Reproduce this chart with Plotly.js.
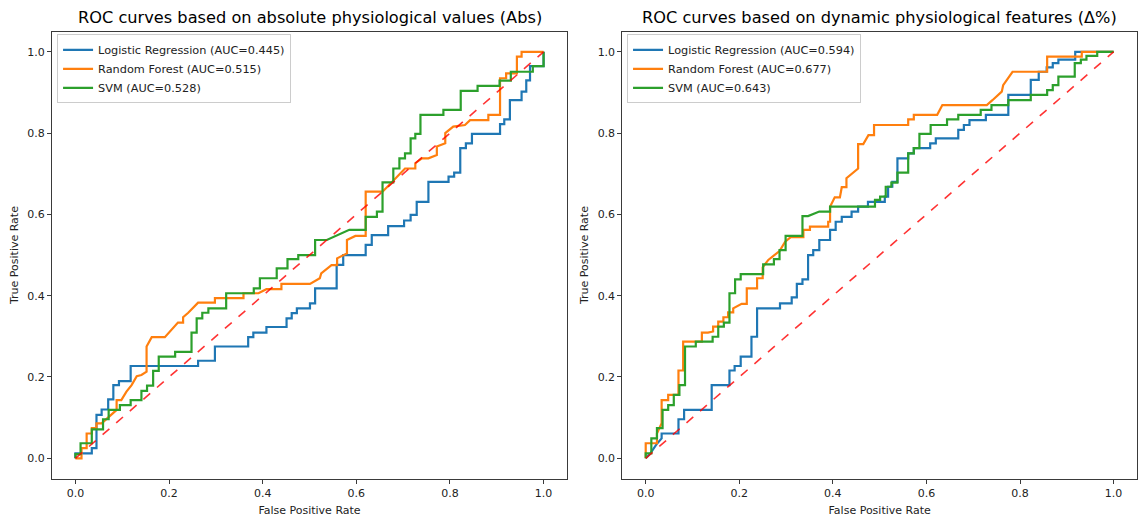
<!DOCTYPE html>
<html>
<head>
<meta charset="utf-8">
<script src="https://cdn.plot.ly/plotly-3.0.1.min.js"></script>
<style>
  html, body { margin: 0; padding: 0; background: #fff; }
  #chart { width: 1148px; height: 520px; }
</style>
</head>
<body>
<div id="chart"></div>
<script>
// ---- data: ROC corner points ----
const titles = [
    "ROC curves based on absolute physiological values (Abs)",
    "ROC curves based on dynamic physiological features (\u0394%)"
];
const modelNames = ["Logistic Regression", "Random Forest", "SVM"];
const aucAbs = [0.445, 0.515, 0.528];
const aucDelta = [0.594, 0.677, 0.643];
const tickVals = [0, 0.2, 0.4, 0.6, 0.8, 1.0];

// Abs - Logistic Regression
const absLrFpr = [0, 0, 0.035, 0.035, 0.045, 0.045, 0.056, 0.056, 0.07, 0.07, 0.081, 0.081, 0.093, 0.093, 0.118, 0.118, 0.262, 0.262, 0.298, 0.298, 0.369, 0.369, 0.38, 0.38, 0.408, 0.408, 0.451, 0.451, 0.462, 0.462, 0.473, 0.473, 0.501, 0.501, 0.512, 0.512, 0.558, 0.558, 0.572, 0.572, 0.62, 0.62, 0.633, 0.633, 0.668, 0.668, 0.702, 0.702, 0.716, 0.716, 0.729, 0.729, 0.754, 0.754, 0.797, 0.797, 0.809, 0.809, 0.822, 0.822, 0.834, 0.834, 0.847, 0.847, 0.907, 0.907, 0.916, 0.916, 0.928, 0.928, 0.953, 0.953, 0.963, 0.963, 0.971, 0.971, 1, 1];
const absLrTpr = [0, 0.012, 0.012, 0.025, 0.025, 0.107, 0.107, 0.12, 0.12, 0.145, 0.145, 0.18, 0.18, 0.19, 0.19, 0.227, 0.227, 0.24, 0.24, 0.275, 0.275, 0.298, 0.298, 0.309, 0.309, 0.323, 0.323, 0.344, 0.344, 0.357, 0.357, 0.369, 0.369, 0.381, 0.381, 0.418, 0.418, 0.476, 0.476, 0.5, 0.5, 0.525, 0.525, 0.549, 0.549, 0.571, 0.571, 0.585, 0.585, 0.599, 0.599, 0.631, 0.631, 0.68, 0.68, 0.693, 0.693, 0.703, 0.703, 0.763, 0.763, 0.775, 0.775, 0.798, 0.798, 0.822, 0.822, 0.834, 0.834, 0.881, 0.881, 0.902, 0.902, 0.93, 0.93, 0.965, 0.965, 1];

// Abs - Random Forest
const absRfFpr = [0, 0.013, 0.013, 0.024, 0.024, 0.035, 0.035, 0.045, 0.045, 0.056, 0.088, 0.088, 0.098, 0.109, 0.12, 0.131, 0.141, 0.152, 0.152, 0.163, 0.191, 0.2, 0.21, 0.219, 0.23, 0.23, 0.241, 0.262, 0.298, 0.298, 0.359, 0.359, 0.391, 0.408, 0.44, 0.44, 0.501, 0.522, 0.525, 0.547, 0.559, 0.559, 0.58, 0.58, 0.598, 0.62, 0.62, 0.656, 0.668, 0.704, 0.726, 0.726, 0.74, 0.754, 0.772, 0.772, 0.79, 0.79, 0.807, 0.832, 0.843, 0.882, 0.882, 0.907, 0.907, 0.92, 0.92, 0.943, 0.943, 0.953, 0.953, 1];
const absRfTpr = [0, 0, 0.025, 0.025, 0.061, 0.061, 0.074, 0.074, 0.086, 0.086, 0.119, 0.143, 0.143, 0.164, 0.18, 0.202, 0.205, 0.213, 0.275, 0.298, 0.298, 0.309, 0.323, 0.334, 0.334, 0.347, 0.358, 0.383, 0.383, 0.394, 0.394, 0.406, 0.406, 0.416, 0.416, 0.429, 0.429, 0.443, 0.455, 0.475, 0.475, 0.492, 0.504, 0.537, 0.547, 0.547, 0.656, 0.656, 0.67, 0.713, 0.713, 0.726, 0.738, 0.738, 0.746, 0.767, 0.775, 0.8, 0.816, 0.82, 0.832, 0.832, 0.845, 0.845, 0.935, 0.935, 0.947, 0.947, 0.988, 0.988, 1, 1];

// Abs - SVM
const absSvmFpr = [0, 0, 0.011, 0.011, 0.035, 0.035, 0.059, 0.059, 0.071, 0.071, 0.095, 0.095, 0.118, 0.118, 0.141, 0.141, 0.153, 0.153, 0.166, 0.166, 0.178, 0.178, 0.213, 0.213, 0.248, 0.248, 0.259, 0.259, 0.271, 0.271, 0.284, 0.284, 0.322, 0.322, 0.381, 0.381, 0.394, 0.394, 0.43, 0.43, 0.453, 0.453, 0.476, 0.476, 0.512, 0.512, 0.537, 0.585, 0.62, 0.62, 0.644, 0.644, 0.656, 0.656, 0.679, 0.679, 0.692, 0.692, 0.704, 0.704, 0.716, 0.716, 0.726, 0.726, 0.737, 0.737, 0.786, 0.786, 0.823, 0.823, 0.859, 0.859, 0.906, 0.906, 0.93, 0.93, 0.977, 0.977, 1, 1];
const absSvmTpr = [0, 0.01, 0.01, 0.037, 0.037, 0.071, 0.071, 0.096, 0.096, 0.119, 0.119, 0.131, 0.131, 0.143, 0.143, 0.166, 0.166, 0.179, 0.179, 0.215, 0.215, 0.25, 0.25, 0.262, 0.262, 0.309, 0.309, 0.344, 0.344, 0.358, 0.358, 0.369, 0.369, 0.406, 0.406, 0.418, 0.418, 0.443, 0.443, 0.467, 0.467, 0.49, 0.49, 0.5, 0.5, 0.537, 0.537, 0.562, 0.562, 0.594, 0.594, 0.607, 0.607, 0.679, 0.679, 0.713, 0.713, 0.738, 0.738, 0.75, 0.75, 0.787, 0.787, 0.798, 0.798, 0.845, 0.845, 0.857, 0.857, 0.904, 0.904, 0.916, 0.916, 0.929, 0.929, 0.951, 0.951, 0.965, 0.965, 1];

// Delta - Logistic Regression
const dLrFpr = [0, 0.01, 0.024, 0.034, 0.034, 0.07, 0.07, 0.082, 0.082, 0.141, 0.141, 0.179, 0.179, 0.19, 0.19, 0.203, 0.203, 0.226, 0.226, 0.238, 0.238, 0.287, 0.287, 0.312, 0.312, 0.323, 0.323, 0.335, 0.335, 0.347, 0.347, 0.358, 0.358, 0.371, 0.371, 0.394, 0.394, 0.406, 0.406, 0.419, 0.419, 0.44, 0.44, 0.454, 0.454, 0.475, 0.475, 0.511, 0.511, 0.518, 0.518, 0.527, 0.527, 0.538, 0.538, 0.561, 0.561, 0.573, 0.573, 0.608, 0.608, 0.62, 0.62, 0.668, 0.668, 0.68, 0.68, 0.692, 0.692, 0.727, 0.727, 0.775, 0.775, 0.823, 0.823, 0.84, 0.84, 0.857, 0.857, 0.87, 0.87, 0.882, 0.882, 0.918, 0.918, 1];
const dLrTpr = [0, 0.012, 0.036, 0.049, 0.061, 0.061, 0.096, 0.096, 0.119, 0.119, 0.18, 0.18, 0.216, 0.216, 0.227, 0.227, 0.25, 0.25, 0.299, 0.299, 0.369, 0.369, 0.381, 0.381, 0.396, 0.396, 0.429, 0.429, 0.44, 0.44, 0.5, 0.5, 0.512, 0.512, 0.537, 0.537, 0.562, 0.562, 0.582, 0.582, 0.594, 0.594, 0.607, 0.607, 0.619, 0.619, 0.631, 0.631, 0.644, 0.644, 0.668, 0.668, 0.68, 0.68, 0.738, 0.738, 0.75, 0.75, 0.763, 0.763, 0.775, 0.775, 0.787, 0.787, 0.808, 0.808, 0.82, 0.82, 0.832, 0.832, 0.845, 0.845, 0.894, 0.894, 0.931, 0.931, 0.951, 0.951, 0.962, 0.962, 0.972, 0.972, 0.981, 0.981, 1, 1];

// Delta - Random Forest
const dRfFpr = [0, 0, 0.024, 0.024, 0.034, 0.034, 0.048, 0.048, 0.07, 0.07, 0.08, 0.08, 0.12, 0.12, 0.133, 0.144, 0.144, 0.155, 0.155, 0.166, 0.166, 0.176, 0.176, 0.187, 0.187, 0.205, 0.216, 0.216, 0.238, 0.238, 0.25, 0.25, 0.262, 0.274, 0.286, 0.298, 0.31, 0.337, 0.337, 0.351, 0.351, 0.39, 0.39, 0.394, 0.394, 0.404, 0.415, 0.419, 0.429, 0.429, 0.454, 0.454, 0.465, 0.476, 0.488, 0.488, 0.561, 0.561, 0.573, 0.573, 0.623, 0.634, 0.729, 0.741, 0.761, 0.764, 0.784, 0.858, 0.858, 0.932, 0.932, 1];
const dRfTpr = [0, 0.037, 0.037, 0.061, 0.086, 0.143, 0.143, 0.156, 0.156, 0.216, 0.216, 0.287, 0.287, 0.309, 0.309, 0.312, 0.324, 0.324, 0.336, 0.336, 0.347, 0.347, 0.359, 0.359, 0.369, 0.38, 0.38, 0.418, 0.418, 0.443, 0.443, 0.47, 0.488, 0.498, 0.51, 0.533, 0.544, 0.544, 0.562, 0.562, 0.57, 0.57, 0.582, 0.582, 0.619, 0.642, 0.642, 0.667, 0.667, 0.689, 0.713, 0.773, 0.773, 0.795, 0.795, 0.82, 0.82, 0.834, 0.834, 0.845, 0.845, 0.869, 0.869, 0.881, 0.902, 0.918, 0.951, 0.951, 0.988, 0.988, 1, 1];

// Delta - SVM
const dSvmFpr = [0, 0, 0.012, 0.012, 0.024, 0.024, 0.036, 0.036, 0.048, 0.048, 0.06, 0.06, 0.072, 0.072, 0.084, 0.084, 0.107, 0.107, 0.143, 0.143, 0.155, 0.155, 0.167, 0.167, 0.179, 0.179, 0.191, 0.191, 0.203, 0.203, 0.251, 0.251, 0.274, 0.274, 0.286, 0.286, 0.299, 0.299, 0.335, 0.335, 0.347, 0.371, 0.394, 0.394, 0.49, 0.49, 0.501, 0.501, 0.513, 0.513, 0.525, 0.525, 0.538, 0.538, 0.561, 0.561, 0.573, 0.573, 0.585, 0.585, 0.609, 0.609, 0.644, 0.644, 0.668, 0.668, 0.716, 0.716, 0.739, 0.739, 0.775, 0.775, 0.823, 0.823, 0.858, 0.858, 0.87, 0.87, 0.882, 0.882, 0.917, 0.917, 0.93, 0.93, 0.942, 0.942, 0.965, 0.965, 1];
const dSvmTpr = [0, 0.012, 0.012, 0.049, 0.049, 0.074, 0.074, 0.119, 0.119, 0.131, 0.131, 0.156, 0.156, 0.18, 0.18, 0.275, 0.275, 0.287, 0.287, 0.299, 0.299, 0.324, 0.324, 0.334, 0.334, 0.406, 0.406, 0.44, 0.44, 0.453, 0.453, 0.477, 0.477, 0.49, 0.49, 0.512, 0.512, 0.547, 0.547, 0.596, 0.596, 0.607, 0.607, 0.619, 0.619, 0.636, 0.636, 0.644, 0.644, 0.668, 0.668, 0.678, 0.678, 0.703, 0.703, 0.75, 0.75, 0.763, 0.763, 0.798, 0.798, 0.82, 0.82, 0.834, 0.834, 0.845, 0.845, 0.857, 0.857, 0.869, 0.869, 0.881, 0.881, 0.894, 0.894, 0.906, 0.906, 0.918, 0.918, 0.939, 0.939, 0.972, 0.972, 0.981, 0.981, 0.99, 0.99, 1, 1];

const colors = ["#1f77b4", "#ff7f0e", "#2ca02c"];
const FONT = "DejaVu Sans, Liberation Sans, sans-serif";

// ---- traces ----
const traces = [];
const panels = [
    { fpr: [absLrFpr, absRfFpr, absSvmFpr], tpr: [absLrTpr, absRfTpr, absSvmTpr], auc: aucAbs, xa: "x", ya: "y", legend: "legend" },
    { fpr: [dLrFpr, dRfFpr, dSvmFpr], tpr: [dLrTpr, dRfTpr, dSvmTpr], auc: aucDelta, xa: "x2", ya: "y2", legend: "legend2" }
];

panels.forEach(p => {
    modelNames.forEach((m, i) => {
        traces.push({
            x: p.fpr[i], y: p.tpr[i],
            type: "scatter", mode: "lines",
            name: `${m} (AUC=${p.auc[i].toFixed(3)})`,
            line: { color: colors[i], width: 2.2 },
            xaxis: p.xa, yaxis: p.ya, legend: p.legend,
            hoverinfo: "skip"
        });
    });
    // chance diagonal
    traces.push({
        x: [0, 1], y: [0, 1],
        type: "scatter", mode: "lines",
        line: { color: "rgba(255,0,0,0.8)", width: 1.6, dash: "dash" },
        xaxis: p.xa, yaxis: p.ya, showlegend: false, hoverinfo: "skip"
    });
});

// ---- layout ----
const axisBase = {
    range: [-0.05, 1.05],
    tickvals: tickVals, tickformat: ".1f",
    showgrid: false, zeroline: false,
    showline: true, mirror: true, linecolor: "#3a3a3a", linewidth: 1,
    ticks: "outside", ticklen: 4, tickwidth: 1, tickcolor: "#3a3a3a",
    tickfont: { family: FONT, size: 11, color: "#222" },
    automargin: false, fixedrange: true
};

const xTitle = { text: "False Positive Rate", font: { family: FONT, size: 11, color: "#222" }, standoff: 7 };
const yTitle = { text: "True Positive Rate", font: { family: FONT, size: 11, color: "#222" }, standoff: 6 };

const legendBase = {
    yanchor: "top", xanchor: "left", y: 0.934,
    bgcolor: "rgba(255,255,255,0.85)", bordercolor: "#cccccc", borderwidth: 1,
    font: { family: FONT, size: 11.3, color: "#222" },
    itemwidth: 30, tracegroupgap: 0
};

const layout = {
    width: 1148, height: 520,
    margin: { l: 0, r: 0, t: 0, b: 0 },
    paper_bgcolor: "#ffffff", plot_bgcolor: "#ffffff",
    font: { family: FONT },
    xaxis:  Object.assign({}, axisBase, { domain: [0.0453, 0.4939], anchor: "y",  title: xTitle }),
    yaxis:  Object.assign({}, axisBase, { domain: [0.0796, 0.9394], anchor: "x",  title: yTitle }),
    xaxis2: Object.assign({}, axisBase, { domain: [0.5421, 0.9904], anchor: "y2", title: xTitle }),
    yaxis2: Object.assign({}, axisBase, { domain: [0.0796, 0.9394], anchor: "x2", title: yTitle }),
    legend:  Object.assign({}, legendBase, { x: 0.0497 }),
    legend2: Object.assign({}, legendBase, { x: 0.5462 }),
    annotations: titles.map((t, i) => ({
        text: t, showarrow: false,
        xref: "paper", yref: "paper",
        x: i === 0 ? 0.2696 : 0.7663, y: 0.967,
        xanchor: "center", yanchor: "middle",
        font: { family: FONT, size: 16.2, color: "#000" }
    }))
};

Plotly.newPlot("chart", traces, layout, { displayModeBar: false, staticPlot: true });
</script>
</body>
</html>
